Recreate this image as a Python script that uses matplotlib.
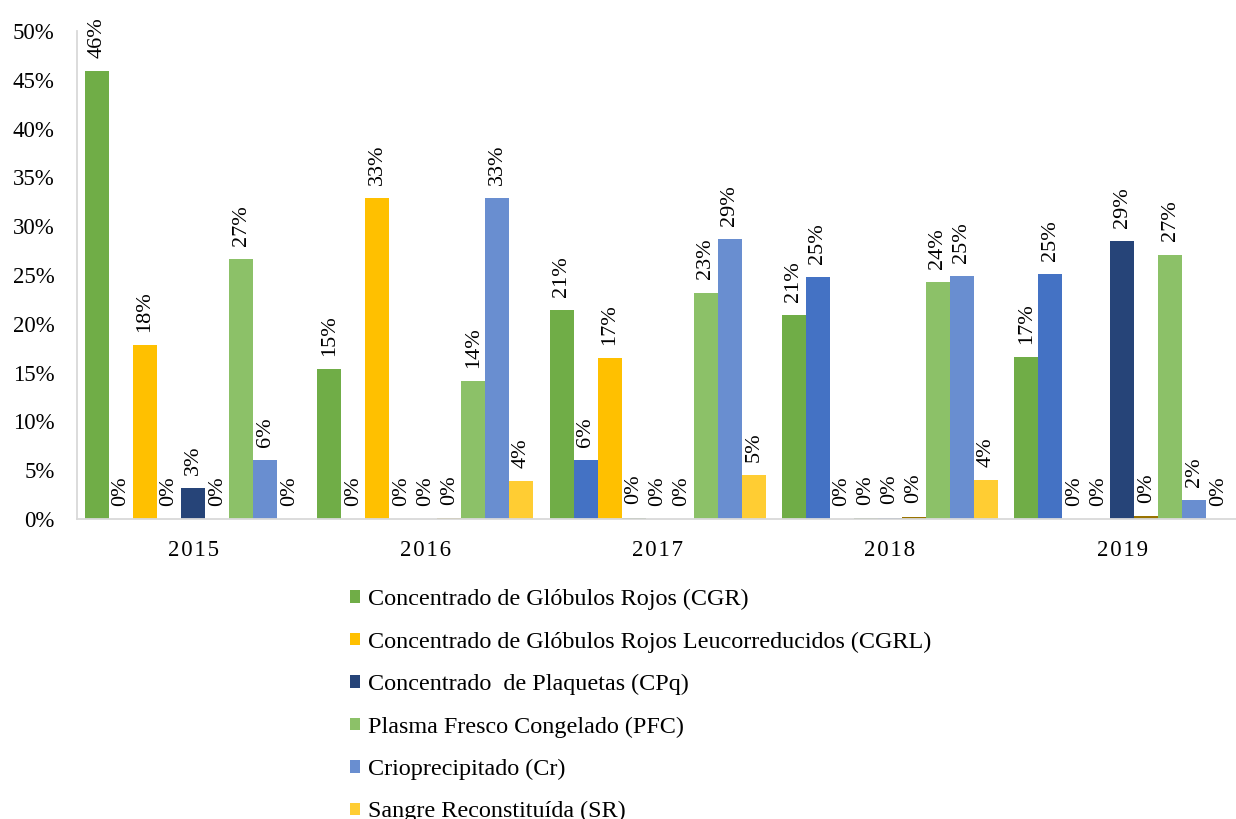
import matplotlib.pyplot as plt
from matplotlib.patches import Patch
from matplotlib.ticker import FuncFormatter
import numpy as np

plt.rcParams['font.family'] = ['Liberation Serif', 'DejaVu Serif']

years = ['2015', '2016', '2017', '2018', '2019']

# porcentajes por año, en el orden de las barras de cada grupo
cgr = [45.9, 15.4, 21.4, 20.9, 16.6]
serie_azul = [0, 0, 6.0, 24.8, 25.1]
cgrl = [17.8, 32.9, 16.5, 0, 0]
serie_verde_osc = [0, 0, 0.15, 0.1, 0]
cpq = [3.2, 0, 0, 0.15, 28.5]
serie_marron = [0, 0.1, 0, 0.25, 0.28]
pfc = [26.6, 14.1, 23.2, 24.3, 27.1]
cr = [6.0, 32.9, 28.7, 24.9, 1.9]
sr = [0, 3.9, 4.5, 4.0, 0]

series = [cgr, serie_azul, cgrl, serie_verde_osc, cpq, serie_marron, pfc, cr, sr]
colors = ['#70AD47', '#4472C4', '#FFC000', '#43682B', '#264478',
          '#997300', '#8CC168', '#698ED0', '#FFCD33']

legend_labels = ['Concentrado de Glóbulos Rojos (CGR)',
                 'Concentrado de Glóbulos Rojos Leucorreducidos (CGRL)',
                 'Concentrado  de Plaquetas (CPq)',
                 'Plasma Fresco Congelado (PFC)',
                 'Crioprecipitado (Cr)',
                 'Sangre Reconstituída (SR)']
legend_colors = ['#70AD47', '#FFC000', '#264478', '#8CC168', '#698ED0', '#FFCD33']

fig = plt.figure(figsize=(12.36, 8.19), dpi=100)
ax = fig.add_axes([77 / 1236, 300 / 819, 1 - 77 / 1236, 488 / 819])

x = np.arange(len(years))
w = 0.1034
for j, (vals, col) in enumerate(zip(series, colors)):
    pos = x + (j - 4) * w
    ax.bar(pos, vals, width=w, color=col, linewidth=0)
    for p, v in zip(pos, vals):
        ax.annotate(f"{int(v + 0.5)}%", (p, v), xytext=(0, 9.5),
                    textcoords='offset points', rotation=90,
                    ha='center', va='bottom', fontsize=16)

ax.set_xlim(-0.5, 4.49)
ax.set_ylim(0, 50)
ax.set_yticks(range(0, 51, 5))
ax.yaxis.set_major_formatter(FuncFormatter(lambda v, _: f"{int(v)}%"))
ax.set_xticks(x)
# Excel dibuja los años con espaciado entre caracteres
ax.set_xticklabels(['\u200a'.join(y) for y in years])
ax.tick_params(axis='y', length=0, pad=16, labelsize=16.5)
ax.tick_params(axis='x', length=0, pad=15, labelsize=16.5)
for s in ['top', 'right']:
    ax.spines[s].set_visible(False)
for s in ['left', 'bottom']:
    ax.spines[s].set_color('#D9D9D9')
    ax.spines[s].set_linewidth(1.3)

handles = [Patch(facecolor=c) for c in legend_colors]
fig.legend(handles, legend_labels, loc='upper left',
           bbox_to_anchor=(350 / 1236, 1 - 589 / 819), frameon=False,
           fontsize=17.4, handlelength=0.42, handleheight=0.42,
           handletextpad=0.33, labelspacing=0.88, borderpad=0,
           borderaxespad=0)

fig.savefig('out.png', dpi=100)
